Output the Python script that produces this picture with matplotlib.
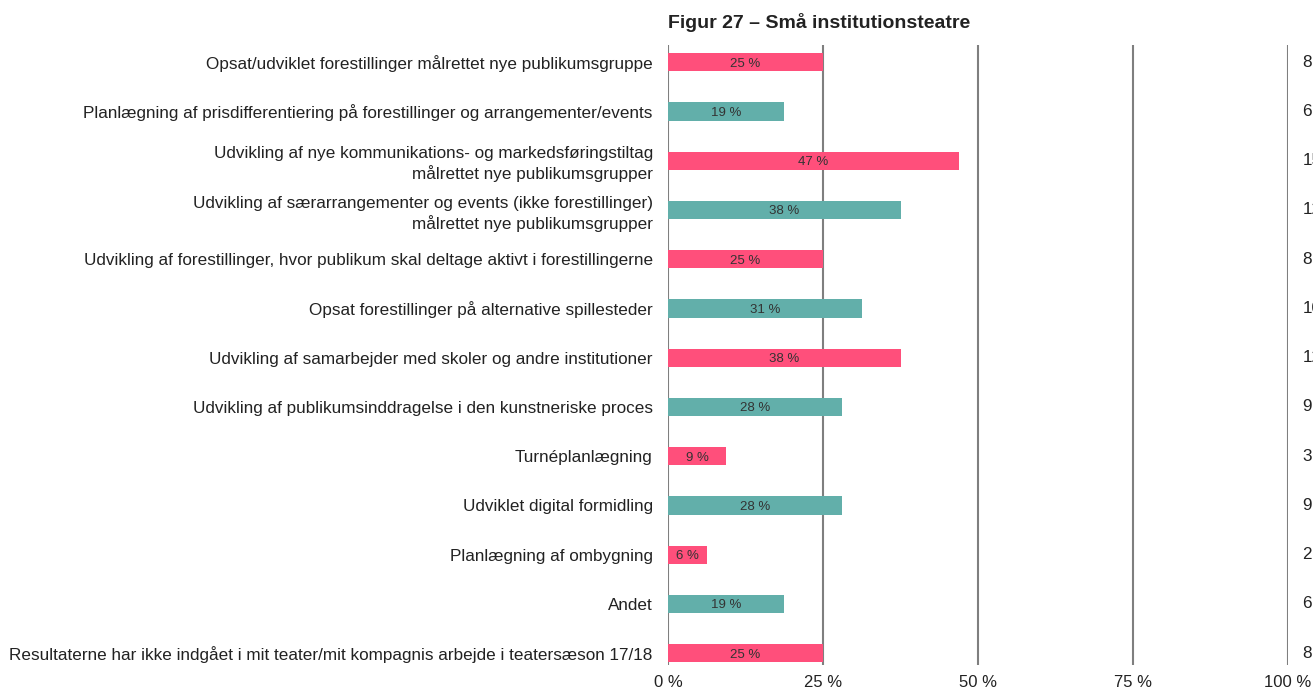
import matplotlib.pyplot as plt
import numpy as np

plt.rcParams['font.family'] = ['Liberation Sans', 'DejaVu Sans']

# data
labels = [
    "Opsat/udviklet forestillinger målrettet nye publikumsgruppe",
    "Planlægning af prisdifferentiering på forestillinger og arrangementer/events",
    "Udvikling af nye kommunikations- og markedsføringstiltag\nmålrettet nye publikumsgrupper",
    "Udvikling af særarrangementer og events (ikke forestillinger)\nmålrettet nye publikumsgrupper",
    "Udvikling af forestillinger, hvor publikum skal deltage aktivt i forestillingerne",
    "Opsat forestillinger på alternative spillesteder",
    "Udvikling af samarbejder med skoler og andre institutioner",
    "Udvikling af publikumsinddragelse i den kunstneriske proces",
    "Turnéplanlægning",
    "Udviklet digital formidling",
    "Planlægning af ombygning",
    "Andet",
    "Resultaterne har ikke indgået i mit teater/mit kompagnis arbejde i teatersæson 17/18",
]
counts = [8, 6, 15, 12, 8, 10, 12, 9, 3, 9, 2, 6, 8]
total = 32
pct_labels = ["25 %", "19 %", "47 %", "38 %", "25 %", "31 %", "38 %", "28 %", "9 %", "28 %", "6 %", "19 %", "25 %"]
ticks = [0, 25, 50, 75, 100]

pct = np.array(counts) / total * 100
colors = ['#FF4F7B' if i % 2 == 0 else '#62AFAA' for i in range(len(labels))]
y = np.arange(len(labels))

fig = plt.figure(figsize=(13.13, 6.95), dpi=100)
ax = fig.add_axes([0.5088, 0.0432, 0.4722, 0.8920])

for t in ticks:
    ax.axvline(t, color='#7f7f7f', lw=1.5, zorder=0)

ax.barh(y, pct, height=0.37, color=colors, zorder=2)
for i in range(len(labels)):
    ax.text(pct[i] / 2, y[i], pct_labels[i], ha='center', va='center_baseline',
            fontsize=9.5, color='#333333', zorder=3)
    # counts column sits past the right edge, partly cut off as in the source
    ax.text(102.3, y[i], str(counts[i]), ha='left', va='center',
            fontsize=12.3, color='#222222', clip_on=False)

ax.set_xlim(0, 100)
ax.set_ylim(12.24, -0.35)
ax.set_yticks(y)
ax.set_yticklabels(labels, fontsize=12.3, color='#222222',
                   multialignment='right', linespacing=1.3)
ax.set_xticks(ticks)
ax.set_xticklabels([f"{t} %" for t in ticks], fontsize=12, color='#222222')
ax.tick_params(length=0, axis='y', pad=11)
ax.tick_params(length=0, axis='x', pad=7)
for s in ax.spines.values():
    s.set_visible(False)

fig.text(0.5088, 1 - 23 / 695, "Figur 27 – Små institutionsteatre", ha='left', va='center',
         fontsize=14, fontweight='bold', color='#222222')

fig.savefig('out.png', dpi=100)
